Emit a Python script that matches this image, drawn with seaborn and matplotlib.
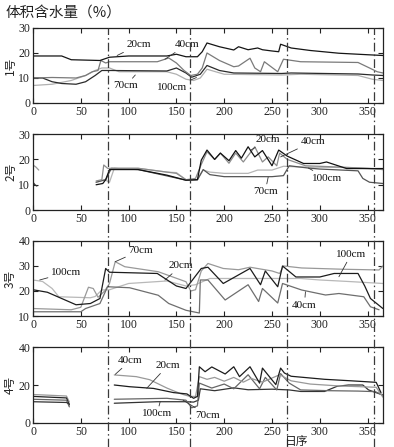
import matplotlib
matplotlib.use('Agg')
import matplotlib.pyplot as plt
from matplotlib.lines import Line2D
import matplotlib.transforms as mtransforms
import pandas as pd
import seaborn as sns

# soil volumetric water content (%), (day, value)
# panel 1 (1号)
p1_20 = [(0, 18.8), (30, 18.8), (40, 17.3), (70, 17.0), (80, 18.3), (100, 18.8), (140, 18.8), (150, 19.5),
         (160, 18.5), (172, 18.5), (177, 20.5), (182, 24.0), (195, 22.5), (210, 21.2), (215, 22.5), (225, 21.3),
         (235, 22.0), (240, 21.3), (250, 20.8), (257, 20.5), (259, 23.5), (270, 22.0), (290, 21.0), (320, 19.9),
         (350, 19.3), (366, 19.0)]
p1_40 = [(0, 10), (20, 10.2), (45, 10), (55, 11), (62, 12.5), (68, 13), (71, 17), (76, 16), (80, 16.5), (130, 16.5),
         (138, 17.5), (142, 18), (150, 16), (158, 13), (165, 11), (172, 11.5), (177, 14), (182, 20), (195, 17),
         (210, 14.5), (215, 14.8), (227, 17.9), (232, 14), (238, 12.5), (242, 16.5), (256, 12.5), (262, 17.5),
         (280, 16.5), (340, 16.2), (352, 14), (360, 12.5), (366, 12)]
p1_70 = [(0, 10), (10, 10), (20, 8.5), (30, 7.8), (45, 7.5), (55, 8.5), (65, 11), (72, 13), (80, 13), (140, 12.8),
         (150, 14), (160, 12), (166, 10.3), (175, 11.5), (182, 15), (195, 13), (210, 12), (260, 11.8), (270, 12.0),
         (340, 11.6), (355, 11.2), (366, 11)]
p1_100 = [(0, 7), (20, 7.5), (40, 9), (55, 11), (65, 13), (72, 14), (80, 14), (90, 12.5), (140, 12.5), (150, 11.5),
          (160, 9.5), (168, 9), (175, 10), (182, 13.5), (200, 11.5), (260, 11.2), (280, 11.5), (340, 11), (355, 9.5),
          (366, 9)]

# panel 2 (2号)
p2_stub_a = [(0, 17.8), (3, 17), (6, 15.8)]
p2_stub_b = [(0, 11), (2, 10), (4, 9.5)]
p2_20 = [(66, 11.5), (72, 12), (74, 17.8), (78, 16.5), (110, 16.5), (140, 15), (150, 14.5), (160, 12), (170, 12.5),
         (176, 18), (182, 23), (190, 20), (196, 22.5), (205, 18.5), (212, 22.5), (220, 19), (232, 25), (240, 19),
         (246, 21), (255, 17.5), (258, 22.5), (266, 20), (285, 17.5), (320, 17), (350, 16.5), (366, 16)]
p2_40 = [(66, 10), (73, 10.5), (76, 12), (80, 16), (110, 16), (140, 13.8), (160, 11.8), (172, 12), (176, 19.7),
         (182, 23.7), (190, 20), (196, 22.5), (205, 19.5), (212, 23.5), (218, 20.5), (225, 25), (232, 21),
         (240, 23.5), (250, 17.5), (257, 23.7), (266, 21.3), (283, 18.4), (300, 18.4), (307, 19), (328, 16.4),
         (366, 16.4)]
p2_70 = [(66, 11), (75, 12), (80, 11), (85, 16.5), (110, 16.5), (140, 15), (150, 14.8), (160, 12), (172, 12),
         (178, 15.8), (185, 15), (200, 14.5), (225, 14.5), (235, 15.8), (250, 15.8), (262, 17.3), (280, 17),
         (330, 16.8), (366, 16)]
p2_100 = [(66, 11), (76, 12), (82, 16.5), (110, 16), (140, 13.5), (160, 11.8), (172, 12), (178, 16), (185, 14),
          (200, 13.2), (250, 13.2), (262, 13.6), (268, 17.5), (288, 16.6), (300, 16.2), (340, 15.5), (345, 12.5),
          (352, 11), (366, 10.5)]

# panel 3 (3号)
p3_20 = [(0, 20.5), (15, 19.5), (30, 17), (45, 14.5), (60, 15), (70, 17), (76, 29), (80, 27.5), (130, 27), (138, 25),
         (150, 22), (160, 21), (166, 24), (176, 29), (183, 29.5), (199, 23), (227, 29), (238, 22.5), (243, 28),
         (256, 21.7), (261, 30), (275, 25.6), (300, 25.6), (315, 27), (340, 27), (347, 22), (353, 17), (366, 13)]
p3_40 = [(0, 11.7), (50, 11.7), (55, 13), (70, 15), (78, 21.7), (101, 21.3), (118, 19.6), (131, 18.3), (142, 15),
         (160, 12.3), (174, 11.2), (175, 24.4), (183, 24.4), (201, 16.4), (225, 22.5), (236, 15.8), (240, 21),
         (256, 15.2), (261, 23), (281, 20.4), (306, 18.4), (320, 19), (346, 17.7), (353, 13.7), (362, 12.5)]
p3_70 = [(0, 13), (40, 12.5), (50, 13.5), (58, 21.5), (63, 21), (68, 17.5), (75, 20), (80, 23), (86, 31.7),
         (96, 29.7), (131, 27.7), (160, 23.7), (165, 20), (170, 20.5), (176, 28), (183, 31), (199, 29), (215, 28.5),
         (227, 29.5), (250, 28), (258, 27), (262, 30), (281, 29.2), (323, 28.7), (362, 28.4), (366, 30)]
p3_100 = [(0, 24.4), (10, 23.8), (20, 21), (27, 17.7), (60, 17.3), (65, 17.8), (72, 20.4), (80, 20.5), (100, 23),
          (140, 24), (160, 22), (170, 22.5), (185, 25), (280, 25), (300, 24.4), (330, 23.8), (366, 23)]

# panel 4 (4号), short early records then a gap
p4_stub_40 = [(0, 15), (35, 14.2), (38, 11)]
p4_stub_20 = [(0, 14), (35, 13.2), (38, 9.5)]
p4_stub_70 = [(0, 12.5), (35, 12), (38, 8.5)]
p4_stub_100 = [(0, 11.2), (35, 10.8), (38, 10)]
p4_40 = [(85, 25.3), (108, 24.4), (122, 22.8), (140, 18.4), (155, 15.3), (164, 14), (170, 14), (174, 24.4),
         (182, 23), (190, 24), (200, 22), (210, 24), (220, 21.5), (228, 23.5), (240, 21.5), (258, 25.4), (270, 22.2),
         (290, 20.5), (320, 19.5), (359, 18.8), (366, 13.6)]
p4_20 = [(85, 20), (101, 19.1), (126, 18.2), (147, 16), (161, 15.3), (168, 13), (172, 14), (174, 29.6), (180, 27),
         (187, 29.5), (201, 25.8), (210, 29.6), (216, 24.4), (227, 29.6), (237, 21), (240, 28.9), (254, 20.2),
         (259, 28.9), (263, 26.3), (270, 24.6), (305, 23), (333, 22.2), (359, 21.4), (364, 16)]
p4_70 = [(85, 12.5), (140, 13), (160, 12), (166, 8), (172, 9), (174, 21), (187, 18.4), (200, 20.5), (210, 18),
         (225, 25.4), (237, 18), (243, 24), (255, 17.4), (259, 26), (268, 21), (280, 17.4), (310, 17), (340, 16.8),
         (358, 16.5), (366, 14.7)]
p4_100 = [(85, 10.4), (130, 11.2), (160, 11.2), (168, 11), (173, 12), (175, 18), (190, 17), (210, 18.5),
          (225, 17.5), (250, 17.8), (268, 17.4), (280, 16.6), (305, 16.6), (318, 19.3), (330, 20), (345, 20),
          (351, 17.4), (366, 14.7)]

panel_names = ['1号', '2号', '3号', '4号']
ylims = [(0, 30), (0, 30), (10, 40), (0, 40)]
yticks = [[0, 10, 20, 30], [0, 10, 20, 30], [10, 20, 30, 40], [0, 20, 40]]
xticks = [0, 50, 100, 150, 200, 250, 300, 350]
event_days = [78, 164, 266, 357]

sns.set_style('ticks')
plt.rcParams['font.family'] = ['Liberation Serif', 'Noto Sans CJK SC']
plt.rcParams['axes.unicode_minus'] = False

fig = plt.figure(figsize=(3.94, 4.47), dpi=100)
boxes = [(0.0838, 0.7696, 0.888, 0.1678), (0.0838, 0.530, 0.888, 0.170),
         (0.0838, 0.293, 0.888, 0.168), (0.0838, 0.0537, 0.888, 0.170)]
axes = [fig.add_axes(b) for b in boxes]


def draw(ax, pts, color, lw=0.9):
    d = pd.DataFrame(pts, columns=['day', 'val'])
    sns.lineplot(data=d, x='day', y='val', ax=ax, color=color, lw=lw, sort=False, estimator=None)


# panel 1
draw(axes[0], p1_100, '#b0b0b0')
draw(axes[0], p1_70, '#2a2a2a')
draw(axes[0], p1_40, '#7a7a7a')
draw(axes[0], p1_20, '#151515')
# panel 2
draw(axes[1], p2_stub_a, '#999999')
draw(axes[1], p2_stub_b, '#333333')
draw(axes[1], p2_70, '#b5b5b5')
draw(axes[1], p2_100, '#555555')
draw(axes[1], p2_20, '#8c8c8c')
draw(axes[1], p2_40, '#111111')
# panel 3
draw(axes[2], p3_100, '#b8b8b8')
draw(axes[2], p3_70, '#999999')
draw(axes[2], p3_40, '#6e6e6e')
draw(axes[2], p3_20, '#1c1c1c')
# panel 4
for pts, c in [(p4_stub_40, '#999999'), (p4_stub_20, '#222222'), (p4_stub_70, '#666666'), (p4_stub_100, '#333333'),
               (p4_100, '#333333'), (p4_70, '#666666'), (p4_40, '#999999'), (p4_20, '#1c1c1c')]:
    draw(axes[3], pts, c)

for i, ax in enumerate(axes):
    ax.set_xlim(0, 366)
    ax.set_ylim(*ylims[i])
    ax.set_xticks(xticks)
    ax.set_yticks(yticks[i])
    ax.tick_params(direction='in', length=3.5, width=0.8, labelsize=8.5, pad=2,
                   top=True, right=True, colors='#222222')
    ax.set_xlabel('')
    ax.set_ylabel(panel_names[i], fontsize=8.5, labelpad=1, family=['Noto Sans CJK SC'])
    for s in ax.spines.values():
        s.set_linewidth(0.9)
        s.set_color('#222222')

# depth labels with leader lines
labels = [
    (0, '20cm', (88, 19), (98, 21.5)),
    (0, '40cm', (138, 17.5), (148, 21.5)),
    (0, '70cm', (107, 11.2), (84, 5)),
    (0, '100cm', (171, 10.2), (130, 4.2)),
    (1, '20cm', (228, 23.7), (233, 26)),
    (1, '40cm', (259, 21), (280, 25.3)),
    (1, '70cm', (246, 13), (230, 5.5)),
    (1, '100cm', (288, 16.6), (292, 10.8)),
    (2, '100cm', (7, 24.4), (19, 25.5)),
    (2, '70cm', (86, 31.7), (100, 34.5)),
    (2, '20cm', (138, 24.4), (142, 28.2)),
    (2, '100cm', (320, 25.7), (317, 32.8)),
    (2, '40cm', (285, 19.7), (271, 12.6)),
    (3, '40cm', (86, 25.6), (89, 30.5)),
    (3, '20cm', (119, 18.3), (128, 27.8)),
    (3, '100cm', (133, 11.2), (114, 2.5)),
    (3, '70cm', (157, 12), (170, 1.6)),
]
for i, txt, xy, xyt in labels:
    axes[i].annotate(txt, xy=xy, xytext=xyt, fontsize=8, color='#111111', ha='left', va='bottom',
                     arrowprops=dict(arrowstyle='-', lw=0.6, color='#333333', shrinkA=0, shrinkB=0))

# dash-dot event lines running through all panels
trans = mtransforms.blended_transform_factory(axes[3].transData, fig.transFigure)
for d in event_days:
    fig.add_artist(Line2D([d, d], [0.0, 0.937], transform=trans, color='#3a3a3a', lw=0.9,
                          linestyle=(0, (7, 2.5, 1.2, 2.5))))

fig.text(0.013, 0.960, '体积含水量（%）', fontsize=10.5, family=['Noto Sans CJK SC'], color='#222222')
fig.text(0.754, 0.005, '日序', fontsize=8.5, family=['Noto Sans CJK SC'], color='#222222', ha='center')

fig.savefig('out.png', dpi=100)
